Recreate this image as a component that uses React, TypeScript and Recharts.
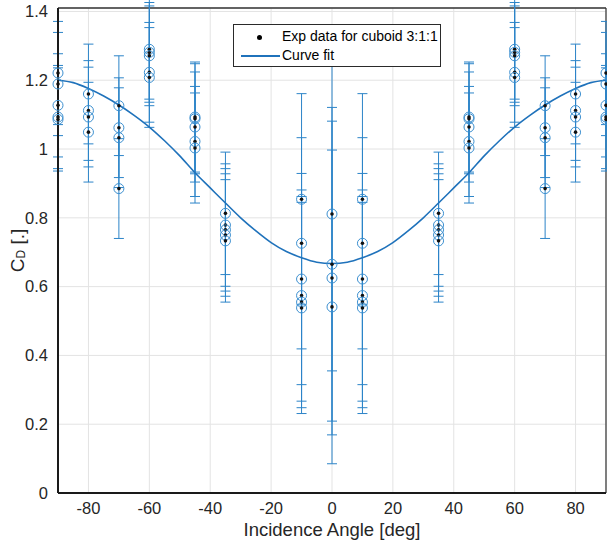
import React from "react";
import {
  ComposedChart,
  Line,
  Scatter,
  ErrorBar,
  XAxis,
  YAxis,
  CartesianGrid,
  ReferenceLine,
} from "recharts";

// measured drag coefficients, one list per incidence angle
const angles = [-90, -80, -70, -60, -45, -35, -10, 0, 10, 35, 45, 60, 70, 80, 90];
const cdMeasured = [
  [1.221, 1.189, 1.127, 1.093, 1.086],
  [1.16, 1.112, 1.093, 1.049],
  [1.126, 1.062, 1.033, 0.885],
  [1.29, 1.281, 1.271, 1.223, 1.208],
  [1.093, 1.088, 1.064, 1.022, 1.003],
  [0.813, 0.779, 0.765, 0.75, 0.733],
  [0.854, 0.726, 0.622, 0.574, 0.555, 0.538],
  [0.811, 0.665, 0.625, 0.541],
  [0.854, 0.726, 0.622, 0.574, 0.555, 0.538],
  [0.813, 0.779, 0.765, 0.75, 0.733],
  [1.093, 1.088, 1.064, 1.022, 1.003],
  [1.29, 1.281, 1.271, 1.223, 1.208],
  [1.126, 1.062, 1.033, 0.885],
  [1.16, 1.112, 1.093, 1.049],
  [1.221, 1.189, 1.127, 1.093, 1.086],
];
const cdError = [0.15, 0.145, 0.145, 0.145, 0.16, 0.178, 0.307, 0.456, 0.307, 0.178, 0.16, 0.145, 0.145, 0.145, 0.15];

// curve fit
const fitAngles = [
  -90, -85, -80, -75, -70, -65, -60, -55, -50, -45, -40, -35, -30, -25, -20, -15, -10, -5, 0,
  5, 10, 15, 20, 25, 30, 35, 40, 45, 50, 55, 60, 65, 70, 75, 80, 85, 90,
];
const fitCd = [
  1.2, 1.193, 1.176, 1.154, 1.128, 1.098, 1.064, 1.024, 0.98, 0.931, 0.887, 0.843, 0.8, 0.762,
  0.728, 0.702, 0.684, 0.671, 0.667, 0.671, 0.684, 0.702, 0.728, 0.762, 0.8, 0.843, 0.887,
  0.931, 0.98, 1.024, 1.064, 1.098, 1.128, 1.154, 1.176, 1.193, 1.2,
];

const xTicks = [-80, -60, -40, -20, 0, 20, 40, 60, 80];
const yTicks = [0, 0.2, 0.4, 0.6, 0.8, 1, 1.2, 1.4];

const BLUE = "#1f72bb";
const BAR_BLUE = "#2c84c8";
const FONT = "'Liberation Sans', Arial, Helvetica, sans-serif";

const fitData = fitAngles.map((a, i) => ({ angle: a, cd: fitCd[i] }));
const expData = angles.flatMap((a, i) =>
  cdMeasured[i].map((v) => ({ angle: a, cd: v, err: cdError[i] }))
);

function Marker(props: any) {
  const { cx, cy } = props;
  if (cx == null || cy == null) return null;
  return (
    <g>
      <circle cx={cx} cy={cy} r={5} fill="none" stroke="#3b8fd0" strokeWidth={1} />
      <circle cx={cx} cy={cy} r={1.8} fill="#111" />
    </g>
  );
}

function CdLabel(props: any) {
  const vb = props.viewBox || { x: 0, y: 8, width: 58, height: 485 };
  const x = 17;
  const y = vb.y + vb.height / 2;
  return (
    <text
      x={x}
      y={y}
      transform={`rotate(-90, ${x}, ${y})`}
      textAnchor="middle"
      dominantBaseline="central"
      fontSize={19}
      fill="#262626"
      fontFamily={FONT}
    >
      C
      <tspan fontSize={12} dy={4}>
        D
      </tspan>
      <tspan dy={-4}> [.]</tspan>
    </text>
  );
}

export default function App() {
  return (
    <div style={{ position: "absolute", left: 0, top: 0, width: 607, height: 545, background: "#fff" }}>
      <ComposedChart
        width={607}
        height={545}
        data={fitData}
        margin={{ top: 8, right: 1, bottom: 0, left: 0 }}
        style={{ fontFamily: FONT }}
      >
        <CartesianGrid stroke="#e3e3e3" strokeWidth={1} />
        <XAxis
          dataKey="angle"
          type="number"
          domain={[-90, 90]}
          ticks={xTicks}
          height={52}
          tickSize={0}
          tickMargin={9}
          tick={{ fontSize: 16.5, fill: "#262626" }}
          axisLine={{ stroke: "#1a1a1a", strokeWidth: 2 }}
          label={{
            value: "Incidence Angle [deg]",
            position: "insideBottom",
            offset: 9,
            fontSize: 18.5,
            fill: "#262626",
          }}
        />
        <YAxis
          dataKey="cd"
          type="number"
          domain={[0, 1.41]}
          allowDataOverflow
          ticks={yTicks}
          width={58}
          tickSize={0}
          tickMargin={10}
          tick={{ fontSize: 16.5, fill: "#262626" }}
          axisLine={{ stroke: "#1a1a1a", strokeWidth: 2 }}
          label={<CdLabel />}
        />
        <ReferenceLine y={1.41} stroke="#333" strokeWidth={1.5} />
        <ReferenceLine x={90} stroke="#333" strokeWidth={1.2} />
        <Scatter data={expData} shape={<Marker />} isAnimationActive={false}>
          <ErrorBar dataKey="err" direction="y" width={5} stroke={BAR_BLUE} strokeWidth={1} />
        </Scatter>
        <Line
          type="monotone"
          dataKey="cd"
          stroke={BLUE}
          strokeWidth={1.6}
          dot={false}
          activeDot={false}
          isAnimationActive={false}
        />
      </ComposedChart>
      <div
        style={{
          position: "absolute",
          left: 233,
          top: 24,
          width: 206,
          height: 41,
          border: "1px solid #2a2a2a",
          background: "#fff",
          fontFamily: FONT,
          fontSize: 14,
          color: "#000",
        }}
      >
        <div style={{ position: "absolute", left: 23, top: 10, width: 5, height: 5, borderRadius: 3, background: "#000" }} />
        <div style={{ position: "absolute", left: 48, top: 3, whiteSpace: "nowrap" }}>Exp data for cuboid 3:1:1</div>
        <div style={{ position: "absolute", left: 7, top: 30, width: 39, height: 2, background: BLUE }} />
        <div style={{ position: "absolute", left: 48, top: 22, whiteSpace: "nowrap" }}>Curve fit</div>
      </div>
    </div>
  );
}
